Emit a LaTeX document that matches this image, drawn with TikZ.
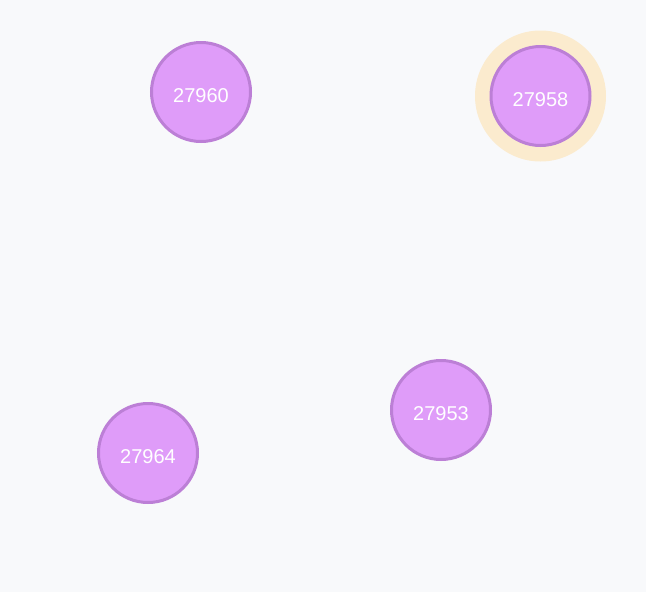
\documentclass[tikz,border=0pt]{standalone}
\usepackage{fontspec}
\setmainfont{Liberation Sans}
\usepackage{xcolor}
\usetikzlibrary{positioning}

\definecolor{bgcol}{HTML}{F8F9FB}
\definecolor{nodefill}{HTML}{DF9CF9}
\definecolor{nodeline}{HTML}{BC7FD6}
\definecolor{halocol}{HTML}{FBEBCE}

\tikzset{
    graphnode/.style={draw=nodeline, fill=nodefill, circle, line width=3pt, minimum size=99pt, inner sep=0pt, text=white, font=\fontsize{20pt}{22pt}\selectfont, text height=20.4pt, text depth=0pt},
    halo/.style={fill=halocol, circle, minimum size=131pt, inner sep=0pt}
}

\begin{document}
\begin{tikzpicture}[x=1pt, y=-1pt]
        \fill[bgcol] (0,0) rectangle (646,592);
        \useasboundingbox (0,0) rectangle (646,592);

        \node (halo58) [halo] at (540.5,96) {};
        \node (n60) [graphnode] at (201,92) {27960};
        \node (n58) [graphnode] at (540.5,96) {27958};
        \node (n53) [graphnode] at (441,410) {27953};
        \node (n64) [graphnode] at (148,453) {27964};
    \end{tikzpicture}
\end{document}
